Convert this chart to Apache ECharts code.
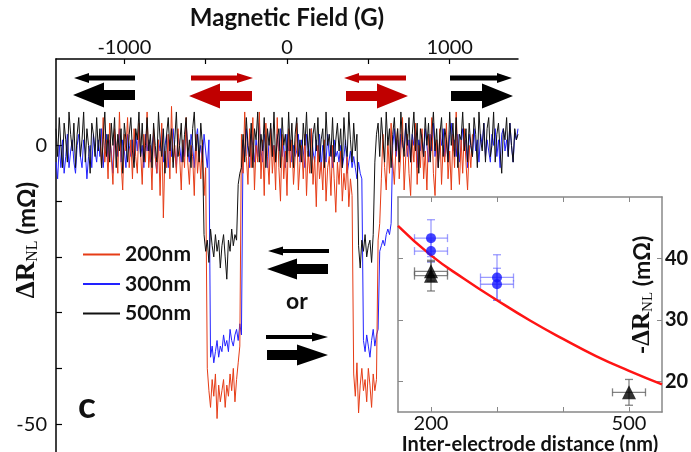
<!DOCTYPE html>
<html><head><meta charset="utf-8">
<script src="https://cdn.jsdelivr.net/npm/echarts@6/dist/echarts.min.js"></script>
<style>html,body{margin:0;padding:0;background:#fff}#c{width:691px;height:452px}</style>
</head><body><div id="c"></div>
<script>
// ---- main panel: field sweep (G), sampled every fieldStep from fieldStart ----
const fieldStart = -1420;
const fieldStep = 10;
const seriesNames = ['200nm', '300nm', '500nm'];
const xTickValues = [-1000, -500, 0, 500, 1000];
const xLabelValues = [-1000, 0, 1000];
const yTickValues = [-50, -40, -30, -20, -10, 0];
const yLabelValues = [-50, 0];

// ΔR_NL (mΩ), one value per field sample
const r500 = [
 3,-2,5,0,-4,4,1,-3,6,2,
 -1,4,-4,2,5,-2,1,6,-3,3,
 0,-5,4,2,-2,5,-1,3,-4,1,
 6,-2,2,-3,4,0,5,-4,2,-1,
 3,-5,4,1,-3,2,5,-1,-4,3,
 1,6,-2,4,-3,0,5,-1,2,-4,
 4,0,-3,6,1,-2,3,-5,2,5,
 -1,3,-4,1,6,-2,0,4,-3,2,
 5,-2,1,-4,3,6,-1,2,-3,4,
 0,
 -16,-19,-17,-21,-15,-18,-20,-16,-19,-17,-22,-18,-16,-20,-24,-17,-19,-15,-18,-16,-17,
 -7,-5,-4,
 2,-3,5,0,-2,4,-4,3,1,6,
 -3,2,-1,5,-4,3,0,4,-2,6,
 -3,1,3,-4,5,0,2,-3,6,-1,
 4,-4,2,5,-2,1,-3,4,0,6,
 -2,3,-5,2,4,-1,5,-3,1,3,
 -4,6,0,2,-2,5,-3,1,4,-1,
 3,-4,5,0,-2,6,1,-3,4,-1,2,
 -18,-22,-17,-19,-16,-20,-18,-17,-21,-16,
 -3,2,4,-2,5,1,-3,6,0,3,
 -4,2,5,-1,3,-3,6,1,-2,4,
 0,5,-3,2,6,-1,4,-5,3,1,
 -2,5,0,4,-3,2,6,-1,3,-4,
 2,5,-2,3,1,-3,6,0,4,-2,
 5,-4,2,1,6,-1,3,-3,4,0,
 -2,5,2,-4,6,1,-1,4,-3,3,
 5,-2,0,6,-3,2,4,-1,-5,3,
 1,5,-2,4,0,-3,3,1,2
];
const r300 = [
 -3,-6,0,-4,1,-5,-2,2,-4,-1,
 1,-3,-5,0,2,-2,-4,1,-1,-6,
 -2,0,-4,2,-1,-3,1,-2,3,-4,
 0,2,-3,1,-1,-5,2,0,-2,3,
 -3,1,-1,-4,2,0,-2,1,-3,2,
 -1,3,-2,0,-4,2,-1,1,-3,0,
 2,-2,-5,1,-1,3,-3,0,2,-4,
 1,-2,3,-1,-4,2,0,-3,1,-2,
 4,-1,-3,2,0,-4,1,3,-2,0,
 -3,2,-1,-4,1,
 -38,-36,-39,-37,-35,-38,-36,-37,-34,-36,-35,-37,-33,-35,-36,-34,-33,-35,-32,-34,
 1,-2,3,-1,-4,2,0,-3,1,-2,
 4,-1,-3,2,0,-4,1,3,-2,0,
 -3,2,-1,3,-2,0,-4,2,-1,1,
 -3,0,-2,-1,2,-3,1,-1,-4,2,
 0,-2,3,-1,-3,1,-2,2,-4,0,
 -1,-3,2,-2,0,-4,1,-2,-1,-3,
 0,-4,-2,1,-5,-3,-1,-4,-2,
 -4,-6,-3,-5,-6,
 -35,-37,-34,-36,-38,-35,-33,-36,-34,-33,
 -19,-18,-17,-18,-16,-15,-16,-14,
 0,3,-2,1,-3,2,0,-1,4,-2,
 1,-3,2,0,3,-4,1,-1,2,-2,
 3,0,-3,2,-1,4,-2,1,-4,2,
 0,3,-2,1,-3,2,4,-1,1,-2,
 2,-3,0,3,-1,1,-4,2,0,-2,
 3,-1,1,-3,2,0,4,-2,1,-1,
 -3,2,0,3,-2,1,-4,2,3,-1,
 1,-2,4,0,-3,2,1,3
];
const r200 = [
 null,null,null,null,null,null,null,null,null,null,
 null,null,null,null,null,null,null,null,null,null,
 null,null,null,null,null,null,null,
 2,-4,5,
 -3,1,-6,4,-2,-7,3,0,-5,6,
 -3,-8,2,-1,5,-4,1,-6,3,-2,
 -5,4,-1,-7,2,-3,6,-4,0,-8,
 3,-2,-5,1,-9,4,-13,-1,-4,2,
 -6,7,-3,0,-5,3,-2,-8,1,-4,
 5,-3,-7,0,-2,-9,2,-5,-1,-6,
 1,-9,-4,
 -40,-44,-47,-42,-45,-41,-49,-43,-46,-44,-42,-47,-43,-45,-41,-44,-40,-46,-42,-39,-36,
 2,-5,6,-2,-7,3,-4,5,-8,0,
 -3,6,-6,1,-9,4,-2,-7,3,-5,
 0,-8,5,-4,-10,2,-6,-1,-9,3,
 -4,1,-7,-2,4,-8,-3,0,-6,2,
 -9,-1,-5,3,-7,-2,-11,0,-6,-3,
 -8,1,-10,-4,-2,-9,0,-6,-12,-3,
 -7,-1,-10,-5,-8,-2,-11,-6,-9,
 -41,-45,-39,-48,-43,-40,-44,-42,-46,-40,-43,-47,-41,-44,-42,
 -17,-14,
 -6,2,-4,-8,1,-5,4,-3,-7,0,
 3,-6,-1,5,-8,-2,2,-5,-9,1,
 -3,4,-7,0,-4,3,-6,-1,-8,2,
 -2,5,-5,-9,1,-4,3,-7,0,-3,
 4,-6,-1,-8,2,-4,6,-2,-7,1,
 -5,3,-3,-8,0,-4,2,
 null,null,null,null,null,null,null,null,null,null,
 null,null,null,null,null,null,null,null,null,null,
 null,null,null,null,null,null,null,null
];

// ---- inset: -ΔR_NL vs inter-electrode distance ----
const insetXTicks = [200, 300, 400, 500];
const insetXLabels = [200, 500];
const insetYTicks = [20, 30, 40];
const blueDist = [200, 200, 300, 300];
const blueVal = [43.3, 41.2, 36.9, 35.8];
const blueValErr = [3.0, 1.8, 3.7, 2.6];
const blueDistErr = [25, 25, 25, 25];
const blackDist = [200, 200, 500];
const blackVal = [37.9, 37.2, 18.2];
const blackValErr = [1.6, 2.5, 2.1];
const blackDistErr = [25, 25, 25];
const fitDist = [150, 200, 250, 300, 350, 400, 450, 500, 550];
const fitVal = [45.3, 40.5, 36.7, 33.2, 29.9, 26.9, 24.1, 21.7, 19.5];

const colors = {'200nm': '#e63c16', '300nm': '#2222ff', '500nm': '#111111'};
const FONT = 'Lato, "Open Sans", sans-serif';

function pairs(vals) {
  return vals.map((v, i) => [fieldStart + i * fieldStep, v == null ? '-' : v]);
}
function zipErr(xs, ys, xe, ye) {
  return xs.map((x, i) => [x, ys[i], xe[i], ye[i]]);
}
function errRender(color) {
  return function (params, api) {
    const x = api.value(0), y = api.value(1), xe = api.value(2), ye = api.value(3);
    const l = api.coord([x - xe, y]), r = api.coord([x + xe, y]);
    const t = api.coord([x, y + ye]), b = api.coord([x, y - ye]);
    const cap = 4;
    const st = {stroke: color, lineWidth: 1.3};
    return {type: 'group', children: [
      {type: 'line', shape: {x1: l[0], y1: l[1], x2: r[0], y2: r[1]}, style: st},
      {type: 'line', shape: {x1: l[0], y1: l[1] - cap, x2: l[0], y2: l[1] + cap}, style: st},
      {type: 'line', shape: {x1: r[0], y1: r[1] - cap, x2: r[0], y2: r[1] + cap}, style: st},
      {type: 'line', shape: {x1: t[0], y1: t[1], x2: b[0], y2: b[1]}, style: st},
      {type: 'line', shape: {x1: t[0] - cap, y1: t[1], x2: t[0] + cap, y2: t[1]}, style: st},
      {type: 'line', shape: {x1: b[0] - cap, y1: b[1], x2: b[0] + cap, y2: b[1]}, style: st}
    ]};
  };
}
function arrow(xTail, xTip, yc, shaft, head, headLen, color) {
  const d = xTip > xTail ? 1 : -1;
  const base = xTip - d * headLen;
  return {type: 'polygon', z: 20, shape: {points: [
    [xTail, yc - shaft / 2], [base, yc - shaft / 2], [base, yc - head / 2], [xTip, yc],
    [base, yc + head / 2], [base, yc + shaft / 2], [xTail, yc + shaft / 2]]},
    style: {fill: color}};
}
const RED = '#c00000', BLK = '#000';
const plain = v => String(v);

const chart = echarts.init(document.getElementById('c'));
chart.setOption({
  animation: false,
  backgroundColor: '#fff',
  grid: [
    {left: 56, top: 59, width: 462, height: 393, outerBoundsMode: 'none', containLabel: false},
    {left: 398, top: 197, width: 264, height: 215, outerBoundsMode: 'none', containLabel: false}
  ],
  xAxis: [
    {gridIndex: 0, type: 'value', position: 'top', min: fieldStart, max: -fieldStart,
     axisLine: {onZero: false, lineStyle: {color: '#000', width: 1.5}},
     axisTick: {inside: true, length: 5, customValues: xTickValues, lineStyle: {color: '#000', width: 1.2}},
     axisLabel: {customValues: xLabelValues, formatter: plain, fontSize: 20, color: '#111', fontFamily: FONT, margin: 1},
     splitLine: {show: false},
     name: 'Magnetic Field (G)', nameLocation: 'middle', nameGap: 29,
     nameTextStyle: {fontSize: 24, fontWeight: 'bold', color: '#111', fontFamily: FONT}},
    {gridIndex: 1, type: 'value', position: 'bottom', min: 150, max: 550, z: 10,
     axisLine: {onZero: false, lineStyle: {color: '#888', width: 1.5}},
     axisTick: {inside: true, length: 5, customValues: insetXTicks, lineStyle: {color: '#888'}},
     axisLabel: {customValues: insetXLabels, formatter: plain, fontSize: 20, color: '#111', fontFamily: FONT, margin: 2},
     splitLine: {show: false},
     name: 'Inter-electrode distance (nm)', nameLocation: 'middle', nameGap: 22,
     nameTextStyle: {fontSize: 20, fontWeight: 'bold', color: '#111', fontFamily: FONT}},
    {gridIndex: 1, type: 'value', position: 'top', min: 150, max: 550, z: 10,
     axisLine: {onZero: false, lineStyle: {color: '#888', width: 1.5}},
     axisTick: {inside: true, length: 5, customValues: insetXTicks, lineStyle: {color: '#888'}},
     axisLabel: {show: false}, splitLine: {show: false}}
  ],
  yAxis: [
    {gridIndex: 0, type: 'value', min: -55, max: 15.5,
     axisLine: {show: true, onZero: false, lineStyle: {color: '#000', width: 1.5}},
     axisTick: {show: true, inside: true, length: 6, customValues: yTickValues, lineStyle: {color: '#000', width: 1.2}},
     axisLabel: {customValues: yLabelValues, formatter: plain, fontSize: 20, color: '#111', fontFamily: FONT, margin: 9},
     splitLine: {show: false}},
    {gridIndex: 1, type: 'value', position: 'right', min: 15, max: 50, z: 10,
     axisLine: {show: true, onZero: false, lineStyle: {color: '#888', width: 1.5}},
     axisTick: {show: true, inside: true, length: 5, customValues: insetYTicks, lineStyle: {color: '#888'}},
     axisLabel: {customValues: insetYTicks, formatter: plain, fontSize: 20, fontWeight: 'bold', color: '#111', fontFamily: FONT, margin: 3},
     splitLine: {show: false}},
    {gridIndex: 1, type: 'value', position: 'left', min: 15, max: 50, z: 10,
     axisLine: {show: true, onZero: false, lineStyle: {color: '#888', width: 1.5}},
     axisTick: {show: true, inside: true, length: 5, customValues: insetYTicks, lineStyle: {color: '#888'}},
     axisLabel: {show: false}, splitLine: {show: false}}
  ],
  legend: {
    data: seriesNames, left: 78, top: 239, orient: 'vertical', icon: 'rect',
    itemWidth: 37, itemHeight: 2, itemGap: 8.5, selectedMode: false,
    textStyle: {fontSize: 21, fontWeight: 'bold', color: '#111', fontFamily: FONT}
  },
  series: [
    {name: '300nm', type: 'line', xAxisIndex: 0, yAxisIndex: 0, data: pairs(r300), showSymbol: false,
     lineStyle: {width: 1, color: colors['300nm']}, itemStyle: {color: colors['300nm']}, z: 2},
    {name: '200nm', type: 'line', xAxisIndex: 0, yAxisIndex: 0, data: pairs(r200), showSymbol: false,
     lineStyle: {width: 1, color: colors['200nm']}, itemStyle: {color: colors['200nm']}, z: 2},
    {name: '500nm', type: 'line', xAxisIndex: 0, yAxisIndex: 0, data: pairs(r500), showSymbol: false,
     lineStyle: {width: 1, color: colors['500nm']}, itemStyle: {color: colors['500nm']}, z: 2},
    {type: 'line', xAxisIndex: 1, yAxisIndex: 1, data: fitDist.map((d, i) => [d, fitVal[i]]),
     smooth: true, showSymbol: false, lineStyle: {width: 2.5, color: '#ff1414'}, z: 11},
    {type: 'custom', xAxisIndex: 1, yAxisIndex: 1, renderItem: errRender('rgba(90,90,255,0.6)'),
     data: zipErr(blueDist, blueVal, blueDistErr, blueValErr), z: 11},
    {type: 'custom', xAxisIndex: 1, yAxisIndex: 1, renderItem: errRender('rgba(90,90,90,0.75)'),
     data: zipErr(blackDist, blackVal, blackDistErr, blackValErr), z: 11},
    {type: 'scatter', xAxisIndex: 1, yAxisIndex: 1, data: blueDist.map((d, i) => [d, blueVal[i]]),
     symbol: 'circle', symbolSize: 10, itemStyle: {color: '#1515ff'}, z: 12},
    {type: 'scatter', xAxisIndex: 1, yAxisIndex: 1, data: blackDist.map((d, i) => [d, blackVal[i]]),
     symbol: 'triangle', symbolSize: 14, itemStyle: {color: '#000'}, z: 12}
  ],
  graphic: {elements: [
    {type: 'rect', z: 5, shape: {x: 398, y: 197, width: 264, height: 215}, style: {fill: '#fff'}},
    arrow(135, 74, 78, 5, 10, 15, BLK),
    arrow(135, 73, 95, 10, 25, 31, BLK),
    arrow(191, 253, 78, 5, 10, 16, RED),
    arrow(252, 189, 96, 10, 25, 31, RED),
    arrow(406, 344, 78, 5, 10, 15, RED),
    arrow(346, 408, 96, 10, 25, 31, RED),
    arrow(450, 512, 78, 5, 10, 15, BLK),
    arrow(451, 513, 96, 10, 25, 31, BLK),
    arrow(329, 268, 251, 4, 9, 15, BLK),
    arrow(328, 267, 269, 10, 21, 30, BLK),
    arrow(266, 328, 337, 4, 9, 16, BLK),
    arrow(267, 328, 355, 10, 21, 31, BLK),
    {type: 'text', z: 20, x: 297, y: 302, style: {text: 'or', fontSize: 23, fontWeight: 'bold', fontFamily: FONT, fill: '#111', align: 'center', verticalAlign: 'middle'}},
    {type: 'text', z: 20, x: 87, y: 406, style: {text: 'c', fontSize: 37, fontWeight: 'bold', fontFamily: FONT, fill: '#111', align: 'center', verticalAlign: 'middle'}},
    {type: 'text', z: 20, x: 27, y: 240, rotation: Math.PI / 2,
     style: {text: '{a|ΔR}{b|NL}{c| (mΩ)}', align: 'center', verticalAlign: 'middle', fill: '#111',
       rich: {a: {fontSize: 27, fontWeight: 'bold', fontFamily: '"Liberation Serif", serif', fill: '#111'},
              b: {fontSize: 16, fontFamily: '"Liberation Serif", serif', fill: '#111', verticalAlign: 'bottom'},
              c: {fontSize: 24, fontWeight: 'bold', fontFamily: FONT, fill: '#111'}}}},
    {type: 'text', z: 20, x: 643, y: 295, rotation: Math.PI / 2,
     style: {text: '{c|-}{a|ΔR}{b|NL}{c| (mΩ)}', align: 'center', verticalAlign: 'middle', fill: '#111',
       rich: {a: {fontSize: 25, fontWeight: 'bold', fontFamily: '"Liberation Serif", serif', fill: '#111'},
              b: {fontSize: 15, fontFamily: '"Liberation Serif", serif', fill: '#111', verticalAlign: 'bottom'},
              c: {fontSize: 23, fontWeight: 'bold', fontFamily: FONT, fill: '#111'}}}}
  ]}
});
</script>
</body></html>
